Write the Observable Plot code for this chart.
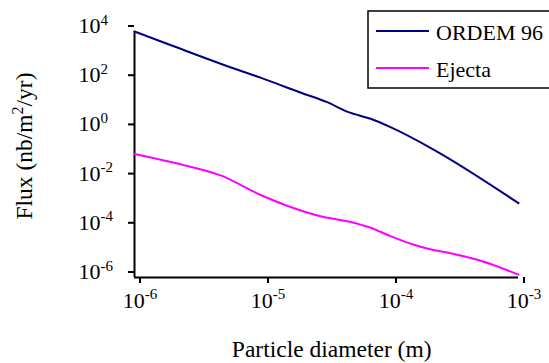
<!DOCTYPE html>
<html><head><meta charset="utf-8">
<script src="https://cdn.jsdelivr.net/npm/d3@7"></script>
<script src="https://cdn.jsdelivr.net/npm/@observablehq/plot@0.6"></script>
<style>
body{margin:0;background:#fff}
#chart svg{display:block}
#chart svg, #chart svg text, #chart svg tspan{font-family:'Liberation Serif','Times New Roman',serif !important}
</style>
</head><body><div id="chart"></div>
<script>
// ---- data ----
const seriesNames = ["ORDEM 96", "Ejecta"];
const seriesColors = ["#000080", "#ff00ff"];

const ordemDiameter = [1e-6, 2e-6, 5e-6, 1e-5, 2e-5, 3.2e-5, 4.7e-5, 7e-5, 1e-4, 2.1e-4, 1e-3];
const ordemFlux     = [1e4, 2570, 437, 124, 32.4, 13.4, 5.25, 2.83, 1.29, 0.175, 1.05e-3];

const ejectaDiameter = [1e-6, 2e-6, 4.7e-6, 1e-5, 1.5e-5, 3e-5, 4.7e-5, 7e-5, 1e-4, 1.5e-4, 2e-4, 3e-4, 5e-4, 1e-3];
const ejectaFlux     = [0.105, 0.047, 0.0141, 2.1e-3, 8.9e-4, 2.9e-4, 1.9e-4, 1.05e-4, 4.8e-5, 2.2e-5, 1.45e-5, 9.5e-6, 4.9e-6, 1.3e-6];

const xTicks = [1e-6, 1e-5, 1e-4, 1e-3];
const yTicks = [1e-6, 1e-4, 1e-2, 1e0, 1e2, 1e4];

const xLabel = "Particle diameter (m)";
const yLabelParts = ["Flux (nb/m", "2", "/yr)"];

// ---- table ----
const rows = [
  ...ordemDiameter.map((d, i) => ({series: seriesNames[0], d, f: ordemFlux[i]})),
  ...ejectaDiameter.map((d, i) => ({series: seriesNames[1], d, f: ejectaFlux[i]}))
];

const fmt = v => "10^" + Math.round(Math.log10(v));
const FONT = "'Liberation Serif','Times New Roman',serif";

const plot = Plot.plot({
  width: 549, height: 363,
  marginLeft: 134, marginRight: 31, marginTop: 31, marginBottom: 86,
  style: {fontFamily: FONT, fontSize: "22px", background: "white", color: "black"},
  x: {type: "log", domain: [1e-6, 1e-3]},
  y: {type: "log", domain: [1e-6, 1e4]},
  color: {domain: seriesNames, range: seriesColors},
  marks: [
    Plot.axisX({ticks: xTicks, tickFormat: fmt, tickSize: 6, tickPadding: 8.5, dx: 5.5, strokeWidth: 2, label: null}),
    Plot.axisY({ticks: yTicks, tickFormat: fmt, tickSize: 6, tickPadding: 50, textAnchor: "start", dy: -5.5, strokeWidth: 2, label: null}),
    Plot.ruleX([1e-6], {stroke: "black", strokeWidth: 2}),
    Plot.ruleY([1e-6], {stroke: "black", strokeWidth: 2}),
    Plot.line(rows, {x: "d", y: "f", z: "series", stroke: "series", strokeWidth: 2, curve: "monotone-x"})
  ]
});

document.getElementById("chart").appendChild(plot);

const svg = d3.select(plot);
svg.attr("font-family", FONT).attr("font-size", 22);

// superscripts on tick labels
svg.selectAll("text").each(function() {
  const t = this.textContent;
  const m = /^10\^(-?\d+)$/.exec(t);
  if (m) {
    const el = d3.select(this);
    el.text("10");
    el.append("tspan").attr("font-size", 15).attr("dy", -8.5).text(m[1]);
  }
});

const color = plot.scale("color");

// axis titles
svg.append("text")
  .attr("x", 331.7).attr("y", 357)
  .attr("text-anchor", "middle").attr("font-size", 23.5).attr("fill", "black")
  .text(xLabel);

const yl = svg.append("text")
  .attr("transform", "translate(31.7,146) rotate(-90)")
  .attr("text-anchor", "middle").attr("font-size", 23.5).attr("fill", "black");
yl.append("tspan").text(yLabelParts[0]);
yl.append("tspan").attr("font-size", 16).attr("dy", -9).text(yLabelParts[1]);
yl.append("tspan").attr("dy", 9).text(yLabelParts[2]);

// legend
const lg = svg.append("g");
lg.append("rect").attr("x", 368).attr("y", 11).attr("width", 200).attr("height", 77)
  .attr("fill", "white").attr("stroke", "black").attr("stroke-width", 1.5);
const ly = [31, 68];
seriesNames.forEach((name, i) => {
  lg.append("line").attr("x1", 376).attr("x2", 429).attr("y1", ly[i]).attr("y2", ly[i])
    .attr("stroke", color.apply(name)).attr("stroke-width", 2);
  lg.append("text").attr("x", 436).attr("y", ly[i] + 8.5).attr("text-anchor", "start")
    .attr("font-size", 22).attr("fill", "black").text(name);
});
svg.selectAll("text").attr("font-family", FONT);
</script>
</body></html>
